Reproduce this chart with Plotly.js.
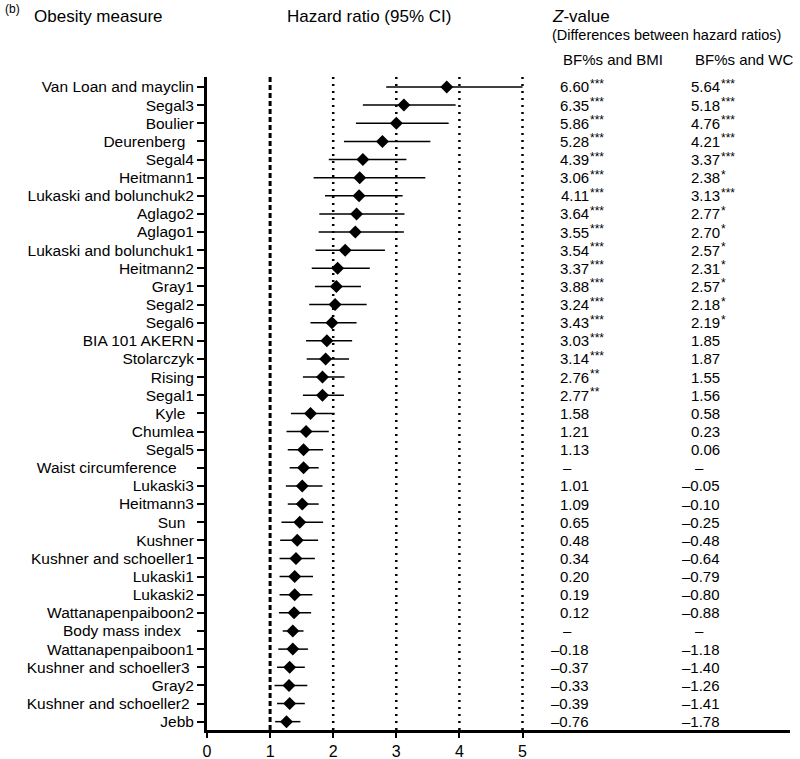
<!DOCTYPE html>
<html>
<head>
<meta charset="utf-8">
<script src="https://cdn.plot.ly/plotly-3.0.1.min.js"></script>
<style>html,body{margin:0;padding:0;background:#fff;}#chart{width:800px;height:759px;}</style>
</head>
<body>
<div id="chart"></div>
<script>
const NB = '\u00a0';
const measures = [
  "Van Loan and mayclin", "Segal3", "Boulier", "Deurenberg" + NB + NB, "Segal4", "Heitmann1",
  "Lukaski and bolunchuk2", "Aglago2", "Aglago1", "Lukaski and bolunchuk1", "Heitmann2", "Gray1",
  "Segal2", "Segal6", "BIA 101 AKERN", "Stolarczyk", "Rising", "Segal1",
  "Kyle" + NB + NB, "Chumlea", "Segal5", "Waist circumference" + NB + NB + NB + NB, "Lukaski3", "Heitmann3",
  "Sun" + NB + NB, "Kushner", "Kushner and schoeller1", "Lukaski1", "Lukaski2", "Wattanapenpaiboon2",
  "Body mass index" + NB + NB + NB, "Wattanapenpaiboon1", "Kushner and schoeller3" + NB, "Gray2", "Kushner and schoeller2" + NB, "Jebb"
];
const hr = [3.80, 3.12, 3.00, 2.78, 2.47, 2.42, 2.41, 2.37, 2.35, 2.19, 2.07, 2.05,
  2.03, 1.98, 1.90, 1.88, 1.83, 1.83, 1.64, 1.57, 1.53, 1.53, 1.51, 1.51,
  1.47, 1.43, 1.41, 1.39, 1.39, 1.38, 1.36, 1.36, 1.31, 1.30, 1.31, 1.26];
const ciLow = [2.84, 2.47, 2.36, 2.17, 1.93, 1.69, 1.87, 1.78, 1.77, 1.72, 1.66, 1.71,
  1.62, 1.64, 1.57, 1.58, 1.52, 1.52, 1.33, 1.26, 1.28, 1.31, 1.25, 1.28,
  1.18, 1.16, 1.15, 1.15, 1.15, 1.14, 1.20, 1.13, 1.11, 1.07, 1.11, 1.08];
const ciHigh = [5.00, 3.94, 3.83, 3.54, 3.16, 3.46, 3.10, 3.13, 3.12, 2.82, 2.58, 2.44,
  2.53, 2.37, 2.30, 2.25, 2.18, 2.17, 2.02, 1.93, 1.84, 1.77, 1.83, 1.77,
  1.84, 1.76, 1.71, 1.68, 1.67, 1.65, 1.53, 1.60, 1.55, 1.59, 1.55, 1.48];
const zBMI = [6.60, 6.35, 5.86, 5.28, 4.39, 3.06, 4.11, 3.64, 3.55, 3.54, 3.37, 3.88,
  3.24, 3.43, 3.03, 3.14, 2.76, 2.77, 1.58, 1.21, 1.13, null, 1.01, 1.09,
  0.65, 0.48, 0.34, 0.20, 0.19, 0.12, null, -0.18, -0.37, -0.33, -0.39, -0.76];
const sigBMI = ["***","***","***","***","***","***","***","***","***","***","***","***",
  "***","***","***","***","**","**","","","","","","",
  "","","","","","","","","","","",""];
const zWC = [5.64, 5.18, 4.76, 4.21, 3.37, 2.38, 3.13, 2.77, 2.70, 2.57, 2.31, 2.57,
  2.18, 2.19, 1.85, 1.87, 1.55, 1.56, 0.58, 0.23, 0.06, null, -0.05, -0.10,
  -0.25, -0.48, -0.64, -0.79, -0.80, -0.88, null, -1.18, -1.40, -1.26, -1.41, -1.78];
const sigWC = ["***","***","***","***","***","*","***","*","*","*","*","*",
  "*","*","","","","","","","","","","",
  "","","","","","","","","","","",""];
const xTicks = [0, 1, 2, 3, 4, 5];
const refLines = [2, 3, 4, 5];

const FONT = '"Liberation Sans", Arial, Helvetica, sans-serif';
const W = 800, H = 759;
const L = 207, R = 10, T = 77, B = 29;
const pw = W - L - R, ph = H - T - B;
const px = x => (x - L) / pw;
const py = y => (H - B - y) / ph;

const rows = measures.map((_, i) => i);

const trace = {
  type: 'scatter', mode: 'markers',
  x: hr, y: rows,
  marker: {symbol: 'diamond', size: 10, color: '#000'},
  error_x: {
    type: 'data', symmetric: false,
    array: hr.map((v, i) => ciHigh[i] - v),
    arrayminus: hr.map((v, i) => v - ciLow[i]),
    thickness: 1.5, width: 0, color: '#000'
  },
  hoverinfo: 'skip', showlegend: false, cliponaxis: false
};

const fmt = v => (v < 0 ? '\u2013' + Math.abs(v).toFixed(2) : v.toFixed(2));
const ann = [];
function colAnn(vals, sigs, rightPx, dashPx) {
  vals.forEach((v, i) => {
    if (v === null) {
      ann.push({xref: 'paper', yref: 'y', x: px(dashPx), y: i, xanchor: 'left', yanchor: 'middle',
        text: '\u2013', showarrow: false, font: {family: FONT, size: 15, color: '#000'}});
      return;
    }
    ann.push({xref: 'paper', yref: 'y', x: px(rightPx), y: i, xanchor: 'right', yanchor: 'middle',
      text: fmt(v), showarrow: false, font: {family: FONT, size: 15, color: '#000'}});
    if (sigs[i]) {
      ann.push({xref: 'paper', yref: 'y', x: px(rightPx), y: i, xanchor: 'left', yanchor: 'middle',
        xshift: -3, yshift: 3, text: sigs[i], showarrow: false, font: {family: FONT, size: 12, color: '#000'}});
    }
  });
}
colAnn(zBMI, sigBMI, 591, 561);
colAnn(zWC, sigWC, 722, 693);

function hdr(text, x, y, size) {
  ann.push({xref: 'paper', yref: 'paper', x: px(x), y: py(y), xanchor: 'left', yanchor: 'middle',
    text: text, showarrow: false, font: {family: FONT, size: size, color: '#000'}});
}
hdr('(b)', 3, 9, 12);
hdr('Obesity measure', 32, 16, 17);
hdr('Hazard ratio (95% CI)', 285, 16, 17);
hdr('<i>Z</i>-value', 550, 16, 17);
hdr('(Differences between hazard ratios)', 550, 35, 14.5);
hdr('BF%s and BMI', 561, 59, 15);
hdr('BF%s and WC', 693, 59, 15);

const shapes = [{
  type: 'line', xref: 'x', yref: 'paper', x0: 1, x1: 1, y0: 0, y1: 1,
  line: {color: '#000', width: 3, dash: '5px,3px'}, layer: 'below'
}];
refLines.forEach(v => shapes.push({
  type: 'line', xref: 'x', yref: 'paper', x0: v, x1: v, y0: 0, y1: 1,
  line: {color: '#000', width: 2.5, dash: '2px,5px'}, layer: 'below'
}));

const layout = {
  width: W, height: H,
  margin: {l: L, r: R, t: T, b: B, pad: 0},
  paper_bgcolor: '#fff', plot_bgcolor: '#fff',
  font: {family: FONT, color: '#000'},
  showlegend: false,
  xaxis: {
    range: [0, pw / 63.1], tickvals: xTicks, ticktext: xTicks.map(String),
    showgrid: false, zeroline: false, showline: true, linewidth: 3, linecolor: '#000',
    ticks: 'outside', ticklen: 5, tickwidth: 2, tickcolor: '#000',
    tickfont: {family: FONT, size: 16, color: '#000'}, fixedrange: true
  },
  yaxis: {
    range: [35.46, -0.55], tickvals: rows, ticktext: measures,
    showgrid: false, zeroline: false, showline: true, linewidth: 3, linecolor: '#000',
    ticks: 'outside', ticklen: 7, tickwidth: 2, tickcolor: '#000',
    tickfont: {family: FONT, size: 15.5, color: '#000'}, fixedrange: true
  },
  shapes: shapes,
  annotations: ann
};

Plotly.newPlot('chart', [trace], layout, {displayModeBar: false, staticPlot: true});
</script>
</body>
</html>
